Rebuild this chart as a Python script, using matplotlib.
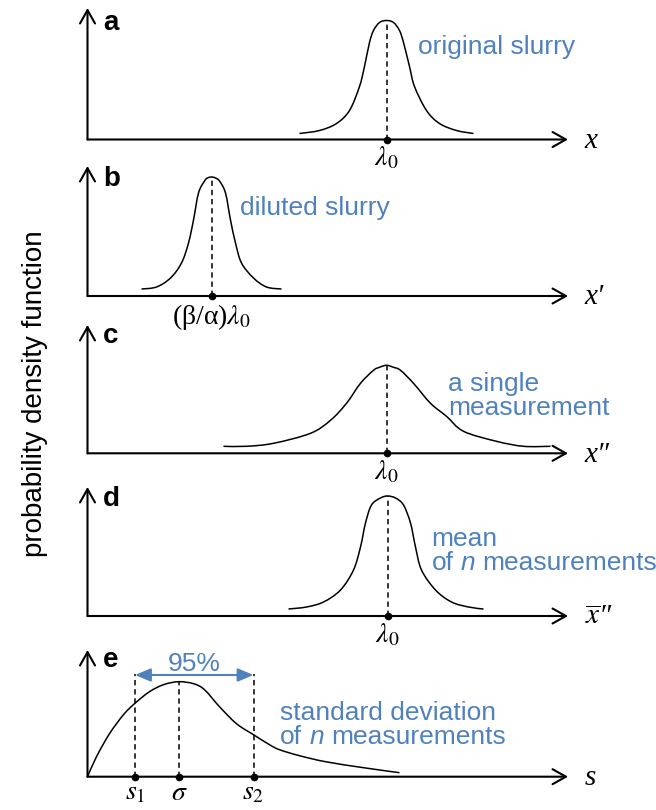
import matplotlib
matplotlib.use("Agg")
import matplotlib.pyplot as plt
from matplotlib.path import Path
from matplotlib.patches import PathPatch

plt.rcParams['font.family'] = 'Liberation Sans'
plt.rcParams['mathtext.fontset'] = 'stix'

BLUE = '#4f81bd'

a_x = [212, 232, 249, 262, 272, 277, 282, 286, 292, 299, 306, 312, 316, 322, 327, 339, 352, 369, 386]
a_y = [6, 9, 16, 29, 53, 73, 97, 109, 117, 119, 117, 109, 97, 73, 53, 29, 16, 9, 6]

b_x = [54, 69, 83, 94, 101, 106, 111, 117, 120, 124, 128, 132, 138, 143, 148, 154, 166, 179, 194]
b_y = [7, 9, 18, 33, 53, 76, 103, 115, 118, 119, 118, 115, 103, 76, 53, 33, 18, 9, 7]

c_x = [136, 159, 186, 223, 243, 259, 273, 286, 292, 299, 306, 313, 326, 343, 359, 376, 409, 436, 463]
c_y = [7, 7, 10, 20, 33, 50, 70, 83, 86, 88, 86, 83, 70, 50, 37, 22, 12, 7, 7]

d_x = [201, 219, 236, 253, 266, 273, 278, 284, 293, 300, 308, 316, 323, 328, 334, 348, 364, 381, 396]
d_y = [7, 9, 14, 26, 46, 69, 93, 111, 118, 120, 118, 111, 93, 69, 46, 26, 14, 9, 7]

e_x = [0, 9, 22, 36, 47, 62, 76, 91, 106, 117, 132, 149, 166, 182, 192, 212, 238, 276, 312]
e_y = [0, 20, 43, 62, 73, 85, 92, 95, 93, 87, 70, 53, 42, 32, 27, 21, 15, 9, 4]

# s1, sigma, s2 and the 95% interval height in panel e
e_ticks = [47.5, 91.5, 166]
e_tick_labels = [r'$s_1$', r'$\sigma$', r'$s_2$']
e_interval_h = 103

W, H = 656, 810
X0, X1 = 87.5, 568

fig = plt.figure(figsize=(6.56, 8.1), dpi=100)

arrow_kw = dict(arrowstyle='->,head_length=0.8,head_width=0.45', lw=1.5,
                color='k', shrinkA=0, shrinkB=0, mutation_scale=12)
dash = (0, (3.5, 2.5))
SERIF = ['Liberation Serif', 'DejaVu Serif']


def smooth_curve(ax, xs, ys):
    # freeform curve through the read points (Catmull-Rom as cubic Bezier)
    pts = list(zip(xs, ys))
    ext = [pts[0]] + pts + [pts[-1]]
    verts, codes = [pts[0]], [Path.MOVETO]
    for i in range(1, len(ext) - 2):
        p0, p1, p2, p3 = ext[i - 1], ext[i], ext[i + 1], ext[i + 2]
        c1 = (p1[0] + (p2[0] - p0[0]) / 6, p1[1] + (p2[1] - p0[1]) / 6)
        c2 = (p2[0] - (p3[0] - p1[0]) / 6, p2[1] - (p3[1] - p1[1]) / 6)
        verts += [c1, c2, p2]
        codes += [Path.CURVE4] * 3
    ax.add_patch(PathPatch(Path(verts, codes), fill=False, lw=1.1, ec='k', clip_on=False))


def make_panel(y0, top, letter, xlabel):
    ax = fig.add_axes([X0 / W, (H - y0) / H, (X1 - X0) / W, (y0 - top) / H])
    ax.set_xlim(0, X1 - X0)
    ax.set_ylim(0, y0 - top)
    ax.axis('off')
    ax.annotate('', xy=(X1 - X0, 0), xytext=(0, 0), arrowprops=arrow_kw, annotation_clip=False)
    ax.annotate('', xy=(0, y0 - top), xytext=(0, 0), arrowprops=arrow_kw, annotation_clip=False)
    ax.text(15.5, 110, letter, fontsize=20, fontweight='bold', ha='left', va='baseline')
    ax.annotate(xlabel, xy=(X1 - X0, 0), xytext=(12, -6), textcoords='offset points',
                fontsize=21, family=SERIF, style='italic', ha='left', va='baseline',
                annotation_clip=False)
    return ax


def bell(ax, xs, ys, label, lab_off):
    smooth_curve(ax, xs, ys)
    i = ys.index(max(ys))
    ax.plot([xs[i], xs[i]], [0, ys[i]], color='k', lw=1.1, ls=dash, clip_on=False)
    ax.plot([xs[i]], [0], 'o', color='k', ms=4.5, clip_on=False, zorder=5)
    ax.annotate(label, xy=(xs[i], 0), xytext=(0, lab_off), textcoords='offset points',
                fontsize=20, family=SERIF, ha='center', va='baseline', annotation_clip=False)


def blue_lines(ax, x, y, parts_list, gap=24.5):
    for k, parts in enumerate(parts_list):
        prev = None
        for txt, italic in parts:
            kw = dict(fontsize=19, color=BLUE, style='italic' if italic else 'normal')
            if prev is None:
                prev = ax.text(x, y - k * gap, txt, ha='left', va='baseline', **kw)
            else:
                prev = ax.annotate(txt, xy=(1, 0), xycoords=prev, xytext=(5.2, 0),
                                   textcoords='offset points', ha='left', va='bottom', **kw)


# a
ax = make_panel(139.5, 8, 'a', 'x')
bell(ax, a_x, a_y, r'$\lambda_0$', -19)
blue_lines(ax, 330.8, 86, [[('original slurry', False)]])

# b
ax = make_panel(296, 166, 'b', 'x′')
bell(ax, b_x, b_y, r'(β/α)$\lambda_0$', -20.5)
blue_lines(ax, 152.5, 81, [[('diluted slurry', False)]])

# c
ax = make_panel(453.3, 325, 'c', 'x″')
bell(ax, c_x, c_y, r'$\lambda_0$', -19)
blue_lines(ax, 360.8, 62.6, [[('a single', False)], [('measurement', False)]])

# d
ax = make_panel(616, 487, 'd', r'$\overline{x}$″')
bell(ax, d_x, d_y, r'$\lambda_0$', -19)
blue_lines(ax, 344, 70.3, [[('mean', False)], [('of', False), ('n', True), ('measurements', False)]])

# e
ax = make_panel(776.7, 650, 'e', 's')
smooth_curve(ax, e_x, e_y)
peak = max(e_y)
for t in e_ticks:
    top = peak if t == e_ticks[1] else e_interval_h
    ax.plot([t, t], [0, top], color='k', lw=1.1, ls=dash, clip_on=False)
ax.plot(e_ticks, [0] * len(e_ticks), 'o', color='k', ms=4.5, clip_on=False, zorder=5)
for t, lab in zip(e_ticks, e_tick_labels):
    ax.annotate(lab, xy=(t, 0), xytext=(0, -16.5), textcoords='offset points',
                fontsize=20, ha='center', va='baseline', annotation_clip=False)
ax.annotate('', xy=(e_ticks[2], 101.7), xytext=(e_ticks[0], 101.7),
            arrowprops=dict(arrowstyle='<|-|>,head_length=0.95,head_width=0.4', color=BLUE,
                            lw=1.5, mutation_scale=10, shrinkA=0, shrinkB=0),
            annotation_clip=False)
ax.text((e_ticks[0] + e_ticks[2]) / 2, 106, '95%', fontsize=19, color=BLUE,
        ha='center', va='baseline')
blue_lines(ax, 192.5, 57, [[('standard deviation', False)],
                           [('of', False), ('n', True), ('measurements', False)]])

fig.text(35 / W, 1 - 394 / H, 'probability density function', rotation=90,
         fontsize=20, ha='center', va='center')

fig.savefig('out.png', dpi=100)
